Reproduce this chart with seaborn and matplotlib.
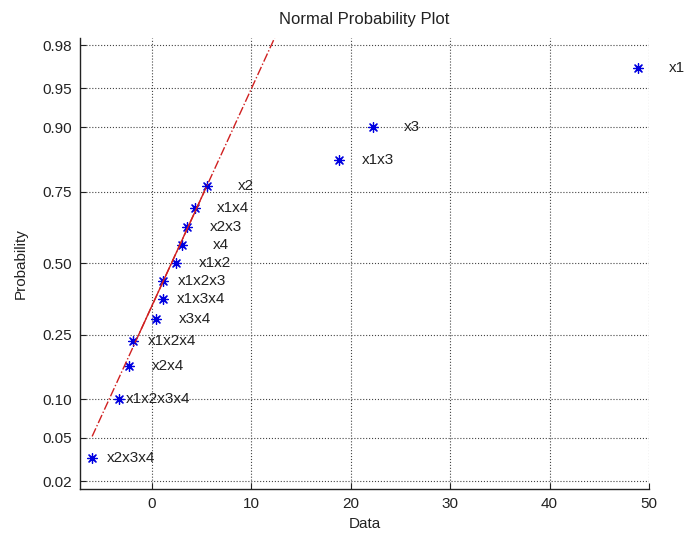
import numpy as np
import pandas as pd
import matplotlib
matplotlib.use("Agg")
import matplotlib.pyplot as plt
import seaborn as sns
from statistics import NormalDist

# ---- data ----
labels = ['x2x3x4', 'x1x2x3x4', 'x2x4', 'x1x2x4', 'x3x4', 'x1x3x4', 'x1x2x3',
          'x1x2', 'x4', 'x2x3', 'x1x4', 'x2', 'x1x3', 'x3', 'x1']
effects = [-6.0, -3.3, -2.3, -1.9, 0.4, 1.08, 1.12,
           2.4, 3.05, 3.5, 4.3, 5.6, 18.8, 22.2, 48.9]
probs = [0.0333, 0.1, 0.1667, 0.2333, 0.3, 0.3667, 0.4333,
         0.5, 0.5667, 0.6333, 0.7, 0.7667, 0.8333, 0.9, 0.9667]
ytick_vals = [0.02, 0.05, 0.10, 0.25, 0.50, 0.75, 0.90, 0.95, 0.98]
ytick_labels = ['0.02', '0.05', '0.10', '0.25', '0.50', '0.75', '0.90', '0.95', '0.98']
xtick_vals = [0, 10, 20, 30, 40, 50]

df = pd.DataFrame({'effect': effects, 'prob': probs, 'label': labels})

sns.set_style('ticks')
plt.rcParams['font.family'] = ['Liberation Sans', 'DejaVu Sans']

nd = NormalDist()
_inv = np.vectorize(lambda p: nd.inv_cdf(min(max(p, 1e-12), 1 - 1e-12)), otypes=[float])
_cdf = np.vectorize(lambda z: nd.cdf(z), otypes=[float])


def fwd(p):
    return _inv(np.asarray(p, dtype=float))


def inv(z):
    return _cdf(np.asarray(z, dtype=float))


Z_BOTTOM, Z_TOP = -2.125, 2.12

fig = plt.figure(figsize=(6.87, 5.39), dpi=100)
ax = fig.add_axes([80 / 687, 50 / 539, (649 - 80) / 687, (489 - 38) / 539])
ax.set_yscale('function', functions=(fwd, inv))

# reference line through the quartiles (as MATLAB normplot)
x = np.array(effects)
q1, q3 = np.percentile(x, [25, 75], method='hazen')
z1, z3 = nd.inv_cdf(0.25), nd.inv_cdf(0.75)
slope = (z3 - z1) / (q3 - q1)
x_top = min(x.max(), q1 + (Z_TOP - z1) / slope)
xs_ext = np.array([x.min(), x_top])
ps_ext = inv(z1 + slope * (xs_ext - q1))
xs_mid = np.array([q1, q3])
ps_mid = inv(z1 + slope * (xs_mid - q1))

sns.scatterplot(data=df, x='effect', y='prob', ax=ax, marker=(8, 2, 0),
                s=50, color='#0000e0', linewidth=0.9, zorder=3)
ax.plot(xs_ext, ps_ext, linestyle='-.', color='#d02020', linewidth=1.0, zorder=4)
ax.plot(xs_mid, ps_mid, linestyle='-', color='#d02020', linewidth=1.0, zorder=4)

for xi, pi, lab in zip(effects, probs, labels):
    ax.annotate(lab, (xi, pi), xytext=(28, 0), textcoords='offset points',
                ha='center', va='center', fontsize=11, color='#222222',
                annotation_clip=False)

ax.set_xlim(-7.22, 50)
ax.set_ylim(float(inv(Z_BOTTOM)), float(inv(Z_TOP)))
ax.set_yticks(ytick_vals)
ax.set_yticklabels(ytick_labels)
ax.set_xticks(xtick_vals)
ax.set_xticklabels([str(v) for v in xtick_vals])
ax.yaxis.set_minor_locator(matplotlib.ticker.NullLocator())

ax.grid(True, linestyle=':', color='#444444', linewidth=0.8)
ax.tick_params(direction='in', length=4, labelsize=11, colors='#222222', pad=6)
for s in ['top', 'right']:
    ax.spines[s].set_visible(False)
for s in ['left', 'bottom']:
    ax.spines[s].set_color('#222222')
    ax.spines[s].set_linewidth(1.0)

ax.set_xlabel('Data', fontsize=11, color='#222222', labelpad=4)
ax.set_ylabel('Probability', fontsize=11, color='#222222', labelpad=10)
ax.set_title('Normal Probability Plot', fontsize=12, color='#222222', pad=10)

fig.savefig('out.png', dpi=100, facecolor='white')
